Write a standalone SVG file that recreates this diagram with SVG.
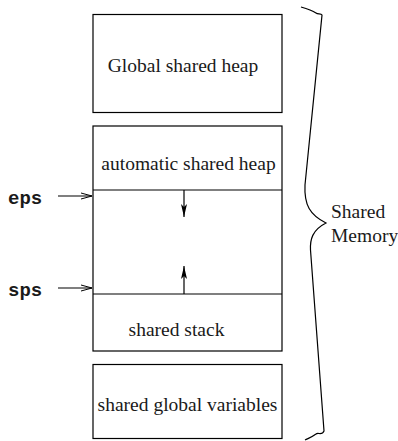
<svg xmlns="http://www.w3.org/2000/svg" width="398" height="441" viewBox="0 0 398 441">
<style>
.box{fill:#fff;stroke:#000;stroke-width:1.2}
.ln{fill:none;stroke:#000;stroke-width:1.2}
.t{font-family:"Liberation Serif","Times New Roman",serif;font-size:19.5px;fill:#1a1a1a}
.m{font-family:"Liberation Mono","Courier New",monospace;font-size:19px;font-weight:bold;fill:#1a1a1a}
</style>
<defs>
<marker id="open" markerWidth="12" markerHeight="8" refX="11" refY="4" orient="auto" markerUnits="userSpaceOnUse">
<path d="M0,1 L11,4 L0,7" fill="none" stroke="#000" stroke-width="1"/>
</marker>
<marker id="fill" markerWidth="14" markerHeight="8" refX="13" refY="3.5" orient="auto" markerUnits="userSpaceOnUse">
<path d="M0,0.5 L13,3.5 L0,6.5 L3,3.5 Z" fill="#000"/>
</marker>
</defs>
<g id="global-heap">
<rect class="box" x="93" y="14.5" width="189" height="98"/>
<text class="t" x="183" y="72" text-anchor="middle">Global shared heap</text>
</g>
<g id="auto-heap">
<rect class="box" x="93" y="126" width="189" height="225"/>
<line class="ln" x1="93" y1="190" x2="282" y2="190"/>
<line class="ln" x1="93" y1="294" x2="282" y2="294"/>
<text class="t" x="188.5" y="170" text-anchor="middle">automatic shared heap</text>
<text class="t" x="176.5" y="336" text-anchor="middle">shared stack</text>
</g>
<g id="global-vars">
<rect class="box" x="93" y="364.5" width="189" height="74"/>
<text class="t" x="187.5" y="411" text-anchor="middle">shared global variables</text>
</g>
<g id="eps">
<text class="m" x="8" y="204">eps</text>
</g>
<g id="sps">
<text class="m" x="8" y="296">sps</text>
</g>
<g id="shared-memory">
<path class="ln" d="M301,7 C308,9 313,11 316,13 C318,14.5 321,13 322,15 L305,185 C304,205 310,215 326,223 C312,230 310,240 310.5,250 L324,431 C322,436 318,432 316,434 C312,437 309,438 305,440"/>
<text class="t" x="331" y="218">Shared</text>
<text class="t" x="331" y="242">Memory</text>
</g>
<g id="connectors">
<line class="ln" x1="58" y1="196" x2="92" y2="196" marker-end="url(#open)"/>
<line class="ln" x1="58" y1="288" x2="92" y2="288" marker-end="url(#open)"/>
<line class="ln" x1="184" y1="190" x2="184" y2="217" marker-end="url(#fill)"/>
<line class="ln" x1="184" y1="294" x2="184" y2="266" marker-end="url(#fill)"/>
</g>
</svg>
